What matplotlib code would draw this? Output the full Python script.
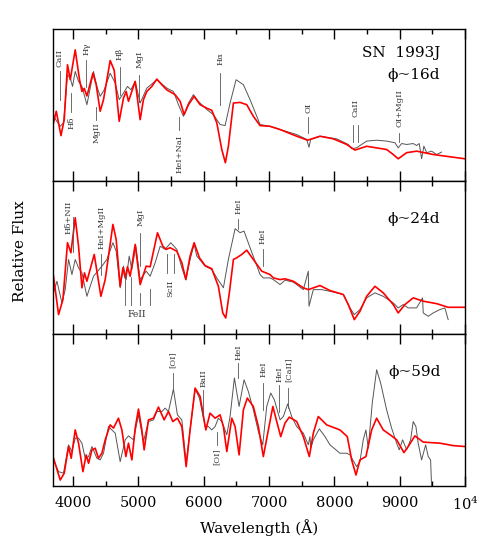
import numpy as np
import matplotlib
matplotlib.use("Agg")
import matplotlib.pyplot as plt
from matplotlib.ticker import MultipleLocator

plt.rcParams['font.family'] = ['DejaVu Serif']
plt.rcParams['mathtext.fontset'] = 'dejavuserif'

# ---------- data: wavelength (A) and relative flux (fraction of panel height) ----------
# phase ~16d
obs16_wave = [3703, 3806, 3856, 3917, 3959, 3994, 4035, 4086, 4138, 4214, 4315, 4367, 4417, 4479,
              4570, 4647, 4708, 4774, 4835, 4887, 4953, 5029, 5131, 5284, 5437, 5538, 5615, 5691,
              5768, 5844, 5920, 6049, 6150, 6252, 6329, 6405, 6497, 6609, 6711, 6864, 7017, 7170,
              7425, 7578, 7613, 7639, 7781, 8036, 8214, 8266, 8342, 8393, 8495, 8648, 8801, 8928,
              8978, 9031, 9107, 9208, 9260, 9300, 9336, 9371, 9413, 9489, 9566, 9642]
obs16_flux = [0.427, 0.361, 0.384, 0.699, 0.678, 0.623, 0.721, 0.656, 0.623, 0.503, 0.721, 0.623,
              0.558, 0.601, 0.710, 0.645, 0.536, 0.580, 0.623, 0.601, 0.656, 0.514, 0.612, 0.667,
              0.612, 0.590, 0.503, 0.427, 0.514, 0.569, 0.525, 0.471, 0.438, 0.373, 0.366, 0.514,
              0.667, 0.634, 0.536, 0.373, 0.361, 0.340, 0.307, 0.275, 0.224, 0.275, 0.296, 0.279,
              0.242, 0.214, 0.220, 0.235, 0.264, 0.270, 0.264, 0.253, 0.220, 0.248, 0.242, 0.248,
              0.235, 0.248, 0.148, 0.231, 0.188, 0.198, 0.176, 0.192]
mod16_wave = [3703, 3745, 3817, 3867, 3917, 3959, 4035, 4101, 4138, 4173, 4214, 4306, 4356, 4417,
              4468, 4570, 4631, 4708, 4774, 4815, 4850, 4953, 5029, 5079, 5131, 5208, 5284, 5361,
              5437, 5564, 5641, 5702, 5768, 5855, 5946, 6049, 6125, 6202, 6278, 6333, 6379, 6456,
              6558, 6660, 6761, 6864, 7017, 7170, 7425, 7593, 7781, 7985, 8190, 8316, 8495, 8801,
              8902, 8978, 9107, 9260, 9514, 9998]
mod16_flux = [0.384, 0.46, 0.30, 0.405, 0.765, 0.667, 0.863, 0.667, 0.59, 0.61, 0.56, 0.71, 0.634,
              0.46, 0.536, 0.793, 0.73, 0.394, 0.547, 0.59, 0.525, 0.656, 0.405, 0.536, 0.59, 0.623,
              0.671, 0.634, 0.60, 0.569, 0.525, 0.438, 0.503, 0.558, 0.503, 0.48, 0.466, 0.384,
              0.209, 0.122, 0.23, 0.514, 0.518, 0.503, 0.427, 0.366, 0.361, 0.34, 0.296, 0.27,
              0.296, 0.279, 0.242, 0.205, 0.23, 0.209, 0.176, 0.148, 0.188, 0.198, 0.176, 0.148]

# phase ~24d
obs24_wave = [3703, 3755, 3832, 3882, 3933, 3985, 4035, 4086, 4138, 4214, 4315, 4443, 4520, 4612,
              4662, 4723, 4774, 4815, 4861, 4902, 4963, 5029, 5121, 5182, 5258, 5335, 5411, 5498,
              5590, 5667, 5728, 5793, 5855, 5896, 6023, 6125, 6202, 6303, 6379, 6482, 6558, 6619,
              6711, 6864, 6914, 7017, 7067, 7170, 7246, 7374, 7526, 7602, 7613, 7679, 7806, 7934,
              8138, 8240, 8306, 8393, 8495, 8622, 8749, 8902, 8978, 9055, 9131, 9260, 9351, 9361,
              9438, 9514, 9616, 9692, 9743]
obs24_flux = [0.268, 0.344, 0.202, 0.289, 0.487, 0.388, 0.487, 0.432, 0.399, 0.245, 0.377, 0.443,
              0.487, 0.597, 0.541, 0.301, 0.443, 0.355, 0.509, 0.421, 0.574, 0.355, 0.410, 0.377,
              0.465, 0.574, 0.553, 0.597, 0.553, 0.432, 0.355, 0.487, 0.586, 0.509, 0.443, 0.421,
              0.366, 0.301, 0.487, 0.689, 0.663, 0.673, 0.564, 0.388, 0.366, 0.366, 0.355, 0.322,
              0.351, 0.338, 0.289, 0.410, 0.180, 0.289, 0.289, 0.278, 0.257, 0.169, 0.125, 0.158,
              0.235, 0.268, 0.245, 0.202, 0.169, 0.191, 0.169, 0.169, 0.235, 0.136, 0.114, 0.136,
              0.158, 0.169, 0.092]
mod24_wave = [3703, 3780, 3847, 3917, 3969, 4035, 4086, 4138, 4177, 4214, 4326, 4428, 4494, 4612,
              4662, 4723, 4765, 4800, 4835, 4876, 4953, 5029, 5121, 5182, 5294, 5376, 5427, 5488,
              5590, 5667, 5728, 5793, 5855, 5936, 6023, 6125, 6226, 6293, 6339, 6394, 6456, 6508,
              6584, 6660, 6761, 6890, 7017, 7067, 7170, 7246, 7374, 7526, 7602, 7781, 7934, 8138,
              8214, 8306, 8393, 8495, 8622, 8749, 8902, 8978, 9081, 9208, 9361, 9566, 9743, 9998]
mod24_flux = [0.377, 0.125, 0.224, 0.597, 0.531, 0.761, 0.574, 0.301, 0.399, 0.344, 0.520, 0.245,
              0.355, 0.717, 0.618, 0.311, 0.432, 0.366, 0.439, 0.377, 0.586, 0.322, 0.443, 0.439,
              0.662, 0.574, 0.553, 0.564, 0.541, 0.465, 0.355, 0.509, 0.597, 0.498, 0.447, 0.426,
              0.311, 0.136, 0.103, 0.268, 0.487, 0.498, 0.520, 0.548, 0.487, 0.410, 0.388, 0.366,
              0.355, 0.360, 0.344, 0.301, 0.289, 0.316, 0.283, 0.257, 0.191, 0.092, 0.147, 0.245,
              0.311, 0.268, 0.191, 0.136, 0.191, 0.235, 0.213, 0.197, 0.173, 0.173]

# phase ~59d
obs59_wave = [3703, 3780, 3856, 3933, 3985, 4035, 4086, 4138, 4188, 4239, 4291, 4367, 4417, 4468,
              4544, 4596, 4647, 4723, 4800, 4850, 4927, 5003, 5079, 5156, 5233, 5284, 5361, 5411,
              5462, 5538, 5599, 5667, 5733, 5793, 5870, 5936, 6023, 6074, 6125, 6176, 6226, 6278,
              6355, 6405, 6471, 6543, 6619, 6685, 6761, 6838, 6905, 6966, 7027, 7082, 7170, 7220,
              7287, 7348, 7425, 7526, 7602, 7628, 7639, 7679, 7771, 7858, 7934, 8087, 8190, 8240,
              8342, 8393, 8443, 8484, 8520, 8581, 8648, 8709, 8801, 8877, 8954, 8994, 9046, 9107,
              9168, 9208, 9249, 9284, 9336, 9398, 9438, 9474, 9489]
obs59_flux = [0.171, 0.094, 0.084, 0.270, 0.226, 0.314, 0.314, 0.281, 0.182, 0.193, 0.259, 0.182,
              0.171, 0.215, 0.390, 0.368, 0.347, 0.160, 0.303, 0.329, 0.303, 0.467, 0.292, 0.423,
              0.434, 0.489, 0.489, 0.511, 0.489, 0.636, 0.467, 0.434, 0.149, 0.368, 0.636, 0.577,
              0.390, 0.390, 0.368, 0.390, 0.445, 0.423, 0.336, 0.456, 0.709, 0.522, 0.697, 0.620,
              0.5, 0.357, 0.270, 0.522, 0.610, 0.566, 0.434, 0.456, 0.539, 0.456, 0.390, 0.347,
              0.270, 0.324, 0.248, 0.303, 0.375, 0.324, 0.270, 0.215, 0.215, 0.204, 0.127, 0.160,
              0.303, 0.368, 0.248, 0.544, 0.763, 0.676, 0.5, 0.380, 0.281, 0.237, 0.303, 0.237,
              0.303, 0.423, 0.390, 0.281, 0.171, 0.270, 0.193, 0.171, -0.005]
mod59_wave = [3703, 3806, 3867, 3933, 3974, 4035, 4086, 4153, 4203, 4239, 4291, 4341, 4391, 4443,
              4494, 4570, 4621, 4697, 4749, 4810, 4850, 4902, 4953, 5003, 5055, 5090, 5156, 5233,
              5309, 5396, 5462, 5529, 5599, 5667, 5733, 5793, 5870, 5946, 6034, 6099, 6176, 6252,
              6303, 6355, 6431, 6482, 6543, 6609, 6669, 6761, 6838, 6914, 6991, 7060, 7119, 7180,
              7246, 7312, 7425, 7526, 7618, 7679, 7755, 7884, 8087, 8199, 8266, 8332, 8393, 8484,
              8572, 8648, 8749, 8877, 8954, 9066, 9131, 9234, 9361, 9616, 9820, 9998]
mod59_flux = [0.182, 0.039, 0.084, 0.259, 0.182, 0.368, 0.281, 0.094, 0.204, 0.149, 0.237, 0.248,
              0.182, 0.215, 0.303, 0.401, 0.380, 0.445, 0.368, 0.193, 0.281, 0.171, 0.380, 0.505,
              0.368, 0.237, 0.434, 0.445, 0.518, 0.434, 0.489, 0.423, 0.445, 0.390, 0.127, 0.368,
              0.643, 0.588, 0.368, 0.478, 0.445, 0.467, 0.390, 0.226, 0.445, 0.390, 0.204, 0.5,
              0.577, 0.522, 0.390, 0.193, 0.368, 0.522, 0.423, 0.324, 0.413, 0.452, 0.423, 0.324,
              0.193, 0.347, 0.456, 0.401, 0.368, 0.324, 0.171, 0.072, 0.171, 0.193, 0.368, 0.445,
              0.368, 0.329, 0.303, 0.219, 0.259, 0.329, 0.288, 0.281, 0.265, 0.259]

phase_labels = ['\u03d5~16d', '\u03d5~24d', '\u03d5~59d']

# line identifications: (label, wavelengths of marker lines, line bottom, line top, text y, text above?)
ids16 = [('CaII', [3795], 0.536, 0.721, 0.752, True),
         ('H\u03b4', [3974], 0.458, 0.582, 0.425, False),
         ('H\u03b3', [4203], 0.621, 0.797, 0.830, True),
         ('MgII', [4356], 0.405, 0.490, 0.386, False),
         ('H\u03b2', [4713], 0.569, 0.752, 0.797, True),
         ('MgI', [5018], 0.523, 0.699, 0.745, True),
         ('HeI+NaI', [5630], 0.340, 0.425, 0.307, False),
         ('H\u03b1', [6252], 0.503, 0.712, 0.765, True),
         ('OI', [7602], 0.320, 0.425, 0.451, True),
         ('CaII', [8291, 8367], 0.261, 0.373, 0.425, True),
         ('OI+MgII', [8994], 0.261, 0.320, 0.359, True)]
ids24 = [('H\u03b4+NII', [3930], 0.664, 0.664, 0.651, True),
         ('HeI+MgII', [4433], 0.388, 0.526, 0.553, True),
         ('MgI', [5029], 0.441, 0.664, 0.704, True),
         ('ScII', [5437, 5553], 0.401, 0.520, 0.355, False),
         ('HeI', [6532], 0.684, 0.750, 0.783, True),
         ('HeI', [6905], 0.441, 0.553, 0.586, True)]
ids59 = [('[OI]', [5529], 0.645, 0.743, 0.776, True),
         ('BaII', [5997], 0.467, 0.632, 0.651, True),
         ('[OI]', [6202], 0.270, 0.355, 0.250, False),
         ('HeI', [6532], 0.711, 0.809, 0.829, True),
         ('HeI', [6914], 0.500, 0.678, 0.717, True),
         ('HeI', [7159], 0.487, 0.664, 0.684, True),
         ('[CaII]', [7297], 0.513, 0.645, 0.684, True)]

feII_wave = [4800, 4887, 5029, 5182]
feII_top = [0.388, 0.375, 0.270, 0.290]

# ---------- plot ----------
fig, axes = plt.subplots(3, 1, figsize=(4.91, 5.45), dpi=100, sharex=True)
fig.subplots_adjust(left=0.1086, right=0.947, bottom=0.1083, top=0.9468, hspace=0)

obs = [(obs16_wave, obs16_flux), (obs24_wave, obs24_flux), (obs59_wave, obs59_flux)]
mod = [(mod16_wave, mod16_flux), (mod24_wave, mod24_flux), (mod59_wave, mod59_flux)]
ids = [ids16, ids24, ids59]

for i, ax in enumerate(axes):
    ax.plot(obs[i][0], obs[i][1], color='#555555', lw=0.7)
    ax.plot(mod[i][0], mod[i][1], color='#ff0000', lw=1.2)
    ax.set_xlim(3700, 10000)
    ax.set_ylim(0, 1)
    ax.set_yticks([])
    ax.xaxis.set_major_locator(MultipleLocator(1000))
    ax.xaxis.set_minor_locator(MultipleLocator(500))
    ax.tick_params(axis='x', which='both', direction='in', top=True, bottom=True, width=1.0)
    ax.tick_params(axis='x', which='major', length=7, labelsize=10.5, pad=7)
    ax.tick_params(axis='x', which='minor', length=3.5)
    for sp in ax.spines.values():
        sp.set_linewidth(1.0)

    for lab, waves, lo, hi, ty, above in ids[i]:
        for w in waves:
            if hi > lo:
                ax.plot([w, w], [lo, hi], color='#555555', lw=0.6)
        xt = np.mean(waves)
        ax.text(xt, ty, lab, rotation=90, ha='center', va='bottom' if above else 'top',
                fontsize=6, color='#333333')

    ax.text(0.94, 0.70 if i == 0 else 0.75, phase_labels[i], transform=ax.transAxes,
            ha='right', va='center', fontsize=11)

# extra marker for Hd+NII and the FeII group
axes[1].plot([4000, 4000], [0.539, 0.763], color='#555555', lw=0.6)
for w, t in zip(feII_wave, feII_top):
    axes[1].plot([w, w], [0.191, t], color='#555555', lw=0.6)
axes[1].text(np.mean(feII_wave), 0.125, 'FeII', ha='center', va='center', fontsize=6.5, color='#333333')

axes[0].text(0.94, 0.84, 'SN  1993J', transform=axes[0].transAxes, ha='right', va='center', fontsize=11)

axes[2].set_xticks(np.arange(4000, 10001, 1000))
axes[2].set_xticklabels(['4000', '5000', '6000', '7000', '8000', '9000', '10$^4$'])

fig.text(259 / 491, 1 - 528 / 545, 'Wavelength (\u00c5)', ha='center', va='center', fontsize=11)
fig.text(20 / 491, 1 - 251 / 545, 'Relative Flux', ha='center', va='center', rotation=90, fontsize=11)

fig.savefig('out.png', dpi=100)
